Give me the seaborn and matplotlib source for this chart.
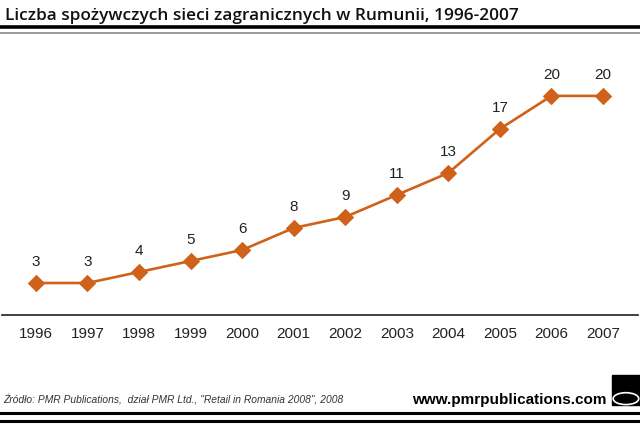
import matplotlib
matplotlib.use("Agg")
import matplotlib.pyplot as plt
import seaborn as sns
import pandas as pd
from matplotlib.lines import Line2D
from matplotlib.patches import Rectangle, Ellipse

years = [1996, 1997, 1998, 1999, 2000, 2001, 2002, 2003, 2004, 2005, 2006, 2007]
counts = [3, 3, 4, 5, 6, 8, 9, 11, 13, 17, 20, 20]
title = "Liczba spożywczych sieci zagranicznych w Rumunii, 1996-2007"
source = "Źródło: PMR Publications,  dział PMR Ltd., \"Retail in Romania 2008\", 2008"
site = "www.pmrpublications.com"

df = pd.DataFrame({"year": years, "count": counts})

sns.set_theme(style="white")
plt.rcParams["font.family"] = ["Liberation Sans", "DejaVu Sans"]

fig = plt.figure(figsize=(6.4, 4.25), dpi=100)
ax = fig.add_axes([0.003, 0.259, 0.994, 0.619])
color = "#D0611A"
sns.lineplot(data=df, x="year", y="count", ax=ax, color=color, linewidth=1.9,
             marker="D", markersize=8, markeredgecolor=color, markerfacecolor=color)

for x, y in zip(years, counts):
    ax.annotate(str(y), (x, y), xytext=(0, 10), textcoords="offset points",
                ha="center", va="bottom", fontsize=11, color="#222222")

ax.set_xlim(1995.34, 2007.68)
ax.set_ylim(0.1, 24)
ax.set_xticks(years)
ax.set_xticklabels([str(y) for y in years], fontsize=11, color="#222222")
ax.set_yticks([])
ax.set_xlabel("")
ax.set_ylabel("")
for s in ["top", "right", "left"]:
    ax.spines[s].set_visible(False)
ax.spines["bottom"].set_color("#333333")
ax.spines["bottom"].set_linewidth(1.3)
ax.tick_params(axis="x", length=0, pad=9)
ax.patch.set_alpha(0)

fig.text(0.008, 0.963, title, fontsize=12.4, fontfamily=["Open Sans", "DejaVu Sans"],
         fontweight="semibold", ha="left", va="center", color="#111111")
fig.add_artist(Line2D([0, 1], [0.936, 0.936], color="black", linewidth=2.6,
                      transform=fig.transFigure))
fig.add_artist(Line2D([0, 1], [0.922, 0.922], color="#999999", linewidth=1.4,
                      transform=fig.transFigure))

fig.text(0.005, 0.058, source, fontsize=7.4, fontstyle="italic", ha="left", va="center",
         color="#333333")
fig.text(0.948, 0.058, site, fontsize=11, fontweight="bold", ha="right", va="center",
         color="black")
fig.add_artist(Line2D([0, 1], [0.028, 0.028], color="black", linewidth=2.2,
                      transform=fig.transFigure))
fig.add_artist(Line2D([0, 1], [0.010, 0.010], color="black", linewidth=2.2,
                      transform=fig.transFigure))
fig.add_artist(Rectangle((0.956, 0.047), 0.044, 0.071, color="black",
                         transform=fig.transFigure))
fig.add_artist(Ellipse((0.978, 0.062), 0.04, 0.028, facecolor="none", edgecolor="white",
                       linewidth=1.2, transform=fig.transFigure))

fig.savefig("out.png", dpi=100)
